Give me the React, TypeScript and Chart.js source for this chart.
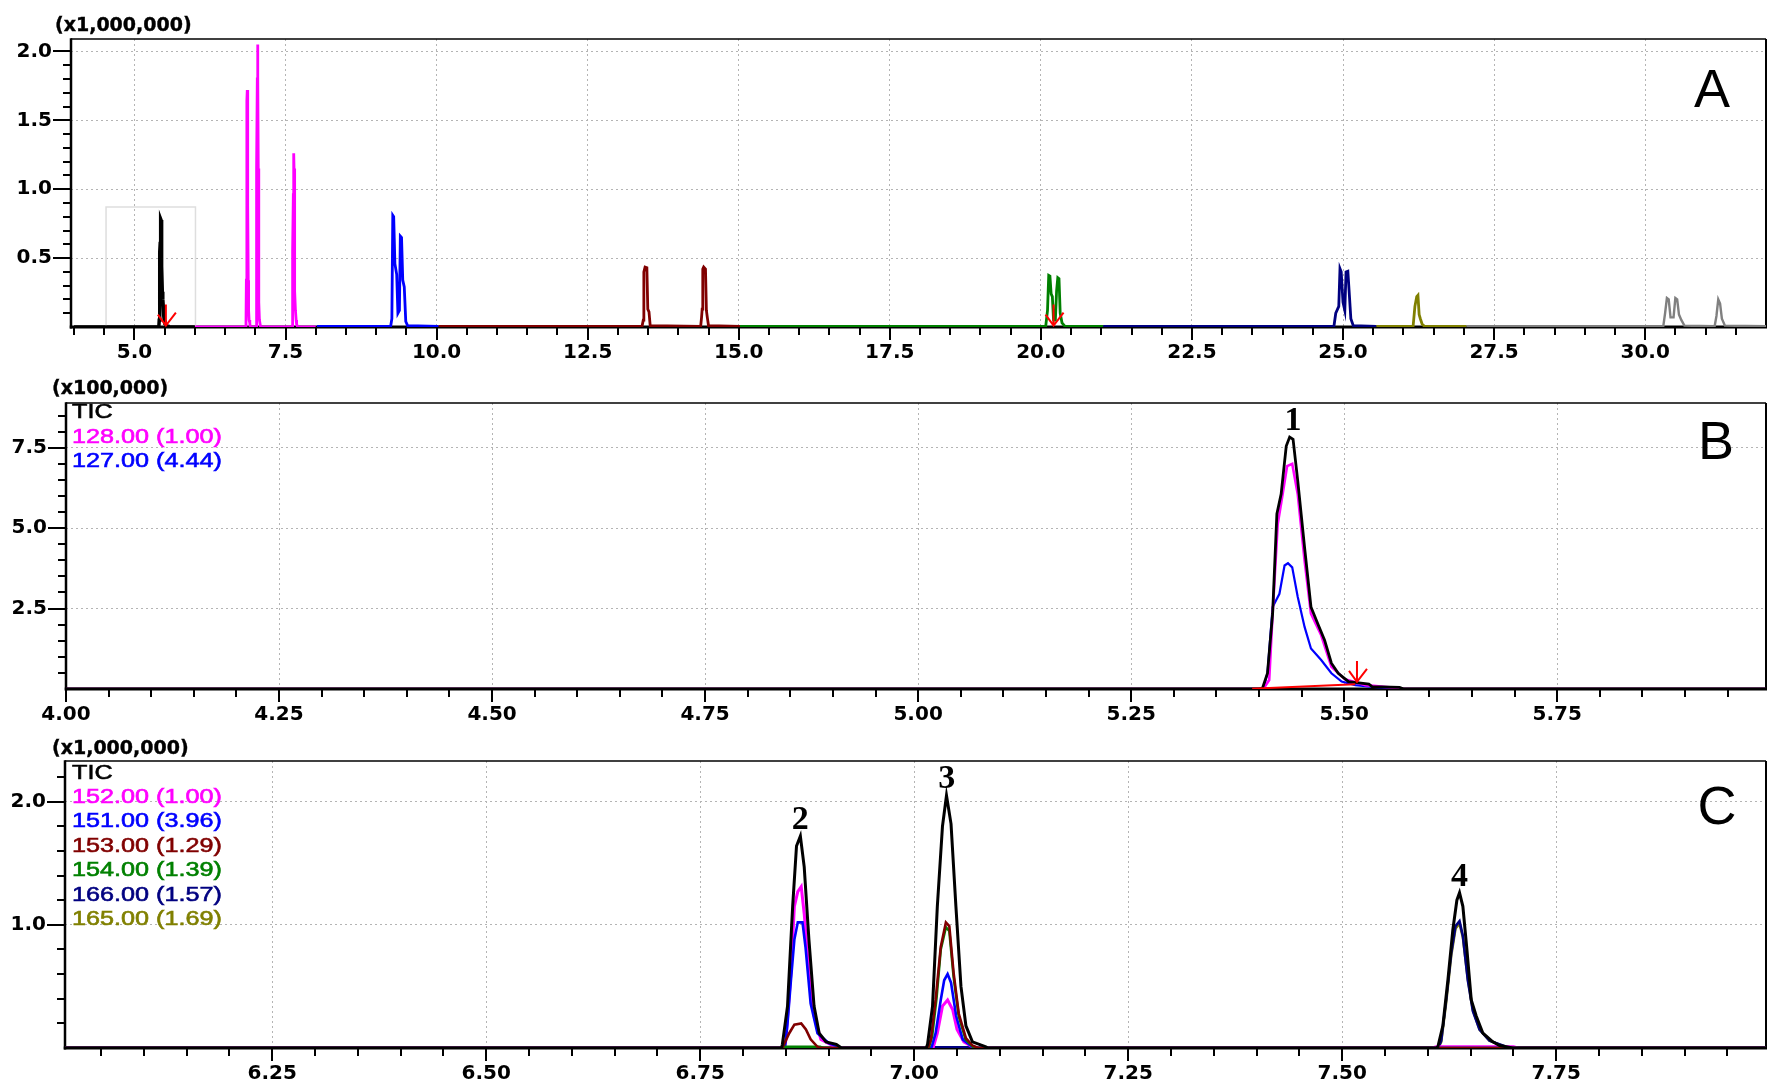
import React, { useEffect, useRef } from 'react';
import { Chart, registerables } from 'chart.js';

Chart.register(...registerables);

type Pt = [number, number];

// ---------------- Panel A (x1,000,000) ----------------
const A_X_MIN = 3.95;
const A_X_MAX = 32.0;
const A_Y_MAX = 2.09;
const A_X_LABELS = [5.0, 7.5, 10.0, 12.5, 15.0, 17.5, 20.0, 22.5, 25.0, 27.5, 30.0];
const A_Y_LABELS = [0.5, 1.0, 1.5, 2.0];
const A_BOX: Pt[] = [[4.53, 0], [4.53, 0.87], [6.01, 0.87], [6.01, 0]];
const A_ARROWS: Pt[] = [[5.52, 0.01], [20.21, 0.01]];
const A_BLUE: Pt[] = [[8.02, 0.005], [9.24, 0.005], [9.26, 0.06], [9.275, 0.81], [9.29, 0.8], [9.31, 0.46], [9.34, 0.38], [9.36, 0.1], [9.385, 0.12], [9.4, 0.66], [9.42, 0.65], [9.44, 0.34], [9.465, 0.29], [9.49, 0.04], [9.52, 0.01], [10.03, 0.005]];
const A_DARKRED: Pt[] = [[10.03, 0.005], [13.4, 0.005], [13.42, 0.05], [13.43, 0.4], [13.45, 0.435], [13.48, 0.43], [13.495, 0.13], [13.515, 0.11], [13.535, 0.01], [14.37, 0.005], [14.385, 0.07], [14.395, 0.13], [14.405, 0.42], [14.42, 0.435], [14.45, 0.42], [14.465, 0.12], [14.48, 0.07], [14.5, 0.01], [15.02, 0.005]];
const A_GREEN: Pt[] = [[15.02, 0.005], [20.08, 0.005], [20.11, 0.12], [20.13, 0.375], [20.15, 0.37], [20.17, 0.24], [20.19, 0.22], [20.21, 0.05], [20.24, 0.05], [20.26, 0.26], [20.28, 0.357], [20.3, 0.35], [20.32, 0.1], [20.35, 0.03], [20.4, 0.005], [21.03, 0.005]];
const A_NAVY: Pt[] = [[21.03, 0.005], [24.85, 0.005], [24.88, 0.1], [24.93, 0.15], [24.95, 0.423], [24.97, 0.4], [25.0, 0.18], [25.03, 0.12], [25.05, 0.4], [25.08, 0.405], [25.1, 0.27], [25.13, 0.06], [25.17, 0.01], [25.55, 0.005]];
const A_OLIVE: Pt[] = [[25.55, 0.005], [26.16, 0.005], [26.19, 0.15], [26.22, 0.22], [26.24, 0.23], [26.26, 0.09], [26.28, 0.06], [26.31, 0.02], [26.35, 0.005], [27.04, 0.005]];
const A_GRAY: Pt[] = [[27.04, 0.005], [30.3, 0.005], [30.33, 0.1], [30.36, 0.21], [30.39, 0.2], [30.42, 0.07], [30.47, 0.07], [30.5, 0.21], [30.53, 0.2], [30.56, 0.09], [30.6, 0.05], [30.65, 0.01], [31.15, 0.005], [31.18, 0.08], [31.21, 0.2], [31.24, 0.17], [31.27, 0.06], [31.32, 0.01], [32.0, 0.005]];

// ---------------- Panel B (x100,000) ----------------
const B_X_MIN = 4.0;
const B_X_MAX = 5.995;
const B_Y_MAX = 8.89;
const B_X_LABELS = [4.0, 4.25, 4.5, 4.75, 5.0, 5.25, 5.5, 5.75];
const B_Y_LABELS = [2.5, 5.0, 7.5];
const B_LEGEND = ['TIC', '128.00 (1.00)', '127.00 (4.44)'];
const B_ARROWS: Pt[] = [[5.515, 0.22]];
const B_TIC: Pt[] = [[4.0, 0], [5.4, 0], [5.404, 0.02], [5.41, 0.49], [5.416, 2.34], [5.421, 5.44], [5.426, 6.06], [5.432, 7.55], [5.436, 7.83], [5.44, 7.76], [5.4455, 6.47], [5.4535, 4.4], [5.461, 2.55], [5.469, 2.03], [5.477, 1.52], [5.485, 0.8], [5.493, 0.49], [5.505, 0.23], [5.529, 0.15], [5.533, 0.07], [5.565, 0.05], [5.57, 0], [6.0, 0]];
const B_128: Pt[] = [[4.0, 0], [5.405, 0], [5.412, 0.28], [5.416, 2.34], [5.422, 5.13], [5.428, 6.1], [5.433, 6.93], [5.439, 7.0], [5.4455, 6.05], [5.4535, 3.99], [5.461, 2.34], [5.473, 1.67], [5.485, 0.69], [5.501, 0.3], [5.525, 0.12], [5.565, 0.02], [5.57, 0], [6.0, 0]];
const B_127: Pt[] = [[4.0, 0], [5.405, 0], [5.41, 0.5], [5.416, 2.55], [5.424, 2.96], [5.43, 3.84], [5.434, 3.91], [5.439, 3.78], [5.4455, 2.86], [5.4535, 1.93], [5.461, 1.26], [5.473, 0.9], [5.485, 0.49], [5.497, 0.23], [5.513, 0.12], [5.54, 0.05], [5.56, 0.02], [5.565, 0], [6.0, 0]];
const B_BASELINE: Pt[] = [[5.392, 0.01], [5.513, 0.15]];

// ---------------- Panel C (x1,000,000) ----------------
const C_X_MIN = 6.008;
const C_X_MAX = 7.995;
const C_Y_MAX = 2.33;
const C_X_LABELS = [6.25, 6.5, 6.75, 7.0, 7.25, 7.5, 7.75];
const C_Y_LABELS = [1.0, 2.0];
const C_LEGEND = ['TIC', '152.00 (1.00)', '151.00 (3.96)', '153.00 (1.29)', '154.00 (1.39)', '166.00 (1.57)', '165.00 (1.69)'];
const C_TIC: Pt[] = [[6.0, 0], [6.845, 0], [6.846, 0.03], [6.852, 0.34], [6.858, 1.15], [6.8625, 1.64], [6.867, 1.72], [6.8715, 1.47], [6.877, 0.88], [6.883, 0.34], [6.889, 0.12], [6.897, 0.05], [6.909, 0.03], [6.915, 0], [7.014, 0], [7.0156, 0.03], [7.0214, 0.34], [7.027, 1.15], [7.033, 1.8], [7.0377, 2.05], [7.043, 1.82], [7.0487, 1.15], [7.0546, 0.5], [7.0604, 0.18], [7.068, 0.05], [7.0837, 0.01], [7.086, 0], [7.61, 0], [7.6117, 0.01], [7.6175, 0.18], [7.6234, 0.55], [7.6292, 0.96], [7.6339, 1.2], [7.637, 1.26], [7.6409, 1.15], [7.6456, 0.8], [7.6507, 0.39], [7.6565, 0.26], [7.6643, 0.12], [7.6759, 0.05], [7.6838, 0.02], [7.6993, 0], [8.0, 0]];
const C_152: Pt[] = [[6.0, 0], [6.848, 0], [6.85, 0.06], [6.856, 0.61], [6.86, 1.15], [6.864, 1.27], [6.868, 1.31], [6.8715, 1.09], [6.877, 0.61], [6.883, 0.26], [6.891, 0.07], [6.905, 0.02], [6.912, 0], [7.022, 0], [7.027, 0.12], [7.033, 0.34], [7.039, 0.39], [7.045, 0.31], [7.05, 0.15], [7.058, 0.05], [7.068, 0.01], [7.075, 0], [7.605, 0], [7.61, 0.01], [7.7, 0.01], [7.705, 0], [8.0, 0]];
const C_151: Pt[] = [[6.0, 0], [6.849, 0], [6.852, 0.2], [6.856, 0.55], [6.86, 0.88], [6.864, 1.02], [6.8695, 1.02], [6.873, 0.82], [6.879, 0.36], [6.887, 0.12], [6.9, 0.04], [6.912, 0.01], [6.915, 0], [7.02, 0], [7.025, 0.12], [7.031, 0.39], [7.035, 0.55], [7.039, 0.6], [7.043, 0.53], [7.049, 0.26], [7.0566, 0.07], [7.068, 0.01], [7.072, 0], [8.0, 0]];
const C_153: Pt[] = [[6.0, 0], [6.846, 0], [6.848, 0.03], [6.854, 0.12], [6.86, 0.19], [6.868, 0.2], [6.8735, 0.15], [6.879, 0.07], [6.887, 0.01], [6.89, 0], [7.016, 0], [7.0195, 0.07], [7.025, 0.39], [7.031, 0.82], [7.037, 1.02], [7.041, 0.99], [7.046, 0.61], [7.052, 0.28], [7.0604, 0.08], [7.068, 0.02], [7.075, 0], [8.0, 0]];
const C_154: Pt[] = [[6.0, 0], [6.846, 0], [6.85, 0.01], [6.89, 0.01], [6.894, 0], [7.017, 0], [7.021, 0.1], [7.026, 0.4], [7.031, 0.8], [7.037, 0.98], [7.041, 0.95], [7.046, 0.58], [7.052, 0.26], [7.06, 0.07], [7.07, 0], [8.0, 0]];
const C_166: Pt[] = [[6.0, 0], [7.015, 0], [7.02, 0.005], [7.07, 0.005], [7.075, 0], [7.612, 0], [7.6156, 0.06], [7.6214, 0.39], [7.6273, 0.77], [7.6323, 0.99], [7.637, 1.03], [7.6409, 0.91], [7.6467, 0.55], [7.6526, 0.3], [7.6604, 0.15], [7.672, 0.06], [7.6915, 0.01], [7.695, 0], [8.0, 0]];
const C_165: Pt[] = [[6.0, 0], [7.612, 0], [7.6156, 0.05], [7.6214, 0.37], [7.6273, 0.75], [7.6323, 0.97], [7.637, 1.01], [7.6409, 0.9], [7.6467, 0.56], [7.6526, 0.31], [7.6604, 0.15], [7.672, 0.06], [7.69, 0.01], [7.695, 0], [8.0, 0]];

const PEAK_LABELS = ['1', '2', '3', '4'];
const PEAK_TIMES = [5.44, 6.867, 7.038, 7.637];

// ---------------- styling ----------------
const COL = {
  tic: '#000000', magenta: '#ff00ff', blue: '#0000ff', darkred: '#800000', green: '#008000',
  navy: '#000080', olive: '#808000', gray: '#808080', red: '#ff0000', box: '#dedede',
};
const W = 1769;
const TICK_FONT = { family: "'DejaVu Sans', 'Liberation Sans', sans-serif", size: 20, weight: 'bold' as const };

interface Series { data: Pt[]; color: string; width?: number; div?: number }
interface Spec {
  top: number; height: number; areaTop: number; areaBottom: number; areaLeft: number;
  xMin: number; xMax: number; yMax: number; xLabels: number[]; yLabels: number[]; xDec: number;
  xMinor: [number, number, number]; yMinor: [number, number, number];
  series: Series[]; lineWidth: number;
  unit: string; unitX: number; unitY: number;
  letter: string; letterX: number; letterY: number;
  legend: { text: string; color: string }[]; legendY: number; legendDy: number;
  arrows: Pt[]; peaks: { label: string; t: number }[]; peakSource: Pt[]; peakDiv: number;
}

function drawText(ctx: CanvasRenderingContext2D, text: string, x: number, y: number, font: string, color: string, sx = 1, align: CanvasTextAlign = 'left', stroke = 0) {
  ctx.save();
  ctx.font = font;
  ctx.fillStyle = color;
  ctx.textAlign = align;
  ctx.textBaseline = 'alphabetic';
  ctx.translate(x, y);
  ctx.scale(sx, 1);
  ctx.fillText(text, 0, 0);
  if (stroke > 0) {
    ctx.strokeStyle = color;
    ctx.lineWidth = stroke;
    ctx.strokeText(text, 0, 0);
  }
  ctx.restore();
}

function decorPlugin(spec: Spec) {
  return {
    id: 'decor',
    beforeDatasetsDraw(chart: any) {
      const { ctx, chartArea: a, scales } = chart;
      const xs = scales.x, ys = scales.y;
      ctx.save();
      ctx.strokeStyle = '#000';
      ctx.lineWidth = 2;
      const [x0, xst, xe] = spec.xMinor;
      for (let i = 0; ; i++) {
        const v = x0 + i * xst;
        if (v > xe + 1e-9) break;
        const major = spec.xLabels.some((m) => Math.abs(m - v) < 1e-6);
        const px = Math.round(xs.getPixelForValue(v));
        ctx.beginPath();
        ctx.moveTo(px, a.bottom + 1);
        ctx.lineTo(px, a.bottom + (major ? 13 : 8));
        ctx.stroke();
      }
      const [y0, yst, ye] = spec.yMinor;
      for (let i = 0; ; i++) {
        const v = y0 + i * yst;
        if (v > ye + 1e-9) break;
        const major = spec.yLabels.some((m) => Math.abs(m - v) < 1e-6);
        const py = Math.round(ys.getPixelForValue(v));
        ctx.beginPath();
        ctx.moveTo(a.left - (major ? 18 : 8), py);
        ctx.lineTo(a.left, py);
        ctx.stroke();
      }
      // frame
      ctx.lineWidth = 1.5;
      ctx.beginPath(); ctx.moveTo(a.left, a.top); ctx.lineTo(a.right, a.top); ctx.stroke();
      ctx.lineWidth = 2;
      ctx.beginPath(); ctx.moveTo(a.right, a.top); ctx.lineTo(a.right, a.bottom); ctx.stroke();
      ctx.lineWidth = 2.5;
      ctx.beginPath(); ctx.moveTo(a.left, a.top - 0.75); ctx.lineTo(a.left, a.bottom + 1.5); ctx.stroke();
      ctx.lineWidth = 3;
      ctx.beginPath(); ctx.moveTo(a.left - 1.25, a.bottom); ctx.lineTo(a.right + 1, a.bottom); ctx.stroke();
      ctx.restore();
    },
    afterDatasetsDraw(chart: any) {
      const { ctx, scales } = chart;
      const xs = scales.x, ys = scales.y;
      drawText(ctx, spec.unit, spec.unitX, spec.unitY, "bold 19px 'DejaVu Sans', sans-serif", '#000', 1, 'left', 0.4);
      drawText(ctx, spec.letter, spec.letterX, spec.letterY, "54px 'Liberation Sans', Arial, sans-serif", '#000', 1, 'center');
      spec.legend.forEach((l, i) => {
        drawText(ctx, l.text, 72, spec.legendY + i * spec.legendDy, "21px 'Liberation Sans', Arial, sans-serif", l.color, 1.2, 'left', 0.6);
      });
      ctx.save();
      ctx.strokeStyle = COL.red;
      ctx.lineWidth = 2;
      spec.arrows.forEach(([t, v]) => {
        const px = xs.getPixelForValue(t);
        const py = ys.getPixelForValue(v);
        ctx.beginPath();
        ctx.moveTo(px, py - 21); ctx.lineTo(px, py);
        ctx.moveTo(px - 8, py - 11); ctx.lineTo(px, py); ctx.lineTo(px + 10, py - 13);
        ctx.stroke();
      });
      ctx.restore();
      spec.peaks.forEach((p) => {
        let m = 0;
        spec.peakSource.forEach(([t, v]) => { if (Math.abs(t - p.t) < 0.02 && v > m) m = v; });
        const py = ys.getPixelForValue(m / spec.peakDiv) - 7;
        drawText(ctx, p.label, xs.getPixelForValue(p.t), py, "bold 34px 'Liberation Serif', 'Times New Roman', serif", '#000', 1, 'center');
      });
    },
  };
}

function build(canvas: HTMLCanvasElement, spec: Spec) {
  const xLab = spec.xLabels;
  const yLab = spec.yLabels;
  return new Chart(canvas, {
    type: 'line',
    data: {
      datasets: spec.series.map((s) => ({
        data: s.data.map(([x, y]) => ({ x, y: y / (s.div || 1) })),
        borderColor: s.color,
        borderWidth: s.width || spec.lineWidth,
        pointRadius: 0,
        tension: 0,
        fill: false,
      })),
    },
    options: {
      responsive: false,
      devicePixelRatio: 1,
      animation: false,
      events: [],
      layout: { padding: { top: spec.areaTop, right: W - 1766, left: 0, bottom: 0 } },
      plugins: { legend: { display: false }, tooltip: { enabled: false } },
      scales: {
        x: {
          type: 'linear',
          min: spec.xMin,
          max: spec.xMax,
          afterBuildTicks: (s: any) => { s.ticks = xLab.map((v) => ({ value: v })); },
          afterFit: (s: any) => { s.height = spec.height - spec.areaBottom; },
          ticks: {
            autoSkip: false, maxRotation: 0, minRotation: 0, padding: 14, color: '#000',
            font: TICK_FONT,
            callback: (v: any) => Number(v).toFixed(spec.xDec),
          },
          grid: { color: '#b4b4b4', lineWidth: 1, drawTicks: false },
          border: { display: false, dash: [2, 3] },
        },
        y: {
          type: 'linear',
          min: 0,
          max: spec.yMax,
          afterBuildTicks: (s: any) => { s.ticks = yLab.map((v) => ({ value: v })); },
          afterFit: (s: any) => { s.width = spec.areaLeft; },
          ticks: {
            autoSkip: false, padding: 19, color: '#000',
            font: TICK_FONT,
            callback: (v: any) => Number(v).toFixed(1),
          },
          grid: { color: '#b4b4b4', lineWidth: 1, drawTicks: false },
          border: { display: false, dash: [2, 3] },
        },
      },
    } as any,
    plugins: [decorPlugin(spec)],
  });
}

const SPEC_A: Spec = {
  top: 0, height: 372, areaTop: 39, areaBottom: 327, areaLeft: 71,
  xMin: A_X_MIN, xMax: A_X_MAX, yMax: A_Y_MAX, xLabels: A_X_LABELS, yLabels: A_Y_LABELS, xDec: 1,
  xMinor: [4.0, 0.5, 31.5], yMinor: [0.1, 0.1, 2.0], lineWidth: 2.8,
  series: [
    { data: B_TIC, color: COL.tic, div: 10, width: 3.5 },
    { data: C_TIC, color: COL.magenta },
    { data: A_BLUE, color: COL.blue },
    { data: A_DARKRED, color: COL.darkred },
    { data: A_GREEN, color: COL.green },
    { data: A_NAVY, color: COL.navy },
    { data: A_OLIVE, color: COL.olive },
    { data: A_GRAY, color: COL.gray, width: 2.4 },
    { data: A_BOX, color: COL.box, width: 1.5 },
  ],
  unit: '(x1,000,000)', unitX: 55, unitY: 31,
  letter: 'A', letterX: 1712, letterY: 107,
  legend: [], legendY: 0, legendDy: 0,
  arrows: A_ARROWS, peaks: [], peakSource: [], peakDiv: 1,
};

const SPEC_B: Spec = {
  top: 372, height: 358, areaTop: 30, areaBottom: 317, areaLeft: 66,
  xMin: B_X_MIN, xMax: B_X_MAX, yMax: B_Y_MAX, xLabels: B_X_LABELS, yLabels: B_Y_LABELS, xDec: 2,
  xMinor: [4.0, 0.05, 5.95], yMinor: [0.5, 0.5, 8.5], lineWidth: 2.6,
  series: [
    { data: B_BASELINE, color: COL.red, width: 2 },
    { data: B_TIC, color: COL.tic, width: 2.8 },
    { data: B_128, color: COL.magenta },
    { data: B_127, color: COL.blue, width: 2.2 },
  ],
  unit: '(x100,000)', unitX: 52, unitY: 22,
  letter: 'B', letterX: 1716, letterY: 87,
  legend: [
    { text: B_LEGEND[0], color: COL.tic },
    { text: B_LEGEND[1], color: COL.magenta },
    { text: B_LEGEND[2], color: COL.blue },
  ],
  legendY: 46, legendDy: 24.5,
  arrows: B_ARROWS,
  peaks: [{ label: PEAK_LABELS[0], t: PEAK_TIMES[0] }],
  peakSource: B_TIC, peakDiv: 1,
};

const SPEC_C: Spec = {
  top: 730, height: 355, areaTop: 31, areaBottom: 318, areaLeft: 65,
  xMin: C_X_MIN, xMax: C_X_MAX, yMax: C_Y_MAX, xLabels: C_X_LABELS, yLabels: C_Y_LABELS, xDec: 2,
  xMinor: [6.05, 0.05, 7.95], yMinor: [0.2, 0.2, 2.2], lineWidth: 2.6,
  series: [
    { data: C_TIC, color: COL.tic, width: 3 },
    { data: C_153, color: COL.darkred },
    { data: C_154, color: COL.green },
    { data: C_151, color: COL.blue },
    { data: C_152, color: COL.magenta, width: 3 },
    { data: C_166, color: COL.navy },
    { data: C_165, color: COL.olive },
  ],
  unit: '(x1,000,000)', unitX: 52, unitY: 24,
  letter: 'C', letterX: 1717, letterY: 94,
  legend: [
    { text: C_LEGEND[0], color: COL.tic },
    { text: C_LEGEND[1], color: COL.magenta },
    { text: C_LEGEND[2], color: COL.blue },
    { text: C_LEGEND[3], color: COL.darkred },
    { text: C_LEGEND[4], color: COL.green },
    { text: C_LEGEND[5], color: COL.navy },
    { text: C_LEGEND[6], color: COL.olive },
  ],
  legendY: 48.5, legendDy: 24.4,
  arrows: [],
  peaks: [
    { label: PEAK_LABELS[1], t: PEAK_TIMES[1] },
    { label: PEAK_LABELS[2], t: PEAK_TIMES[2] },
    { label: PEAK_LABELS[3], t: PEAK_TIMES[3] },
  ],
  peakSource: C_TIC, peakDiv: 1,
};

const SPECS = [SPEC_A, SPEC_B, SPEC_C];

export default function App() {
  const refA = useRef<HTMLCanvasElement>(null);
  const refB = useRef<HTMLCanvasElement>(null);
  const refC = useRef<HTMLCanvasElement>(null);
  useEffect(() => {
    const refs = [refA, refB, refC];
    const charts = SPECS.map((s, i) => build(refs[i].current as HTMLCanvasElement, s));
    return () => charts.forEach((c) => c.destroy());
  }, []);
  const refs = [refA, refB, refC];
  return (
    <div style={{ position: 'fixed', left: 0, top: 0, width: W, height: 1085, background: '#fff', overflow: 'hidden' }}>
      {SPECS.map((s, i) => (
        <canvas
          key={i}
          ref={refs[i]}
          width={W}
          height={s.height}
          style={{ position: 'absolute', left: 0, top: s.top, width: W, height: s.height, display: 'block' }}
        />
      ))}
    </div>
  );
}
